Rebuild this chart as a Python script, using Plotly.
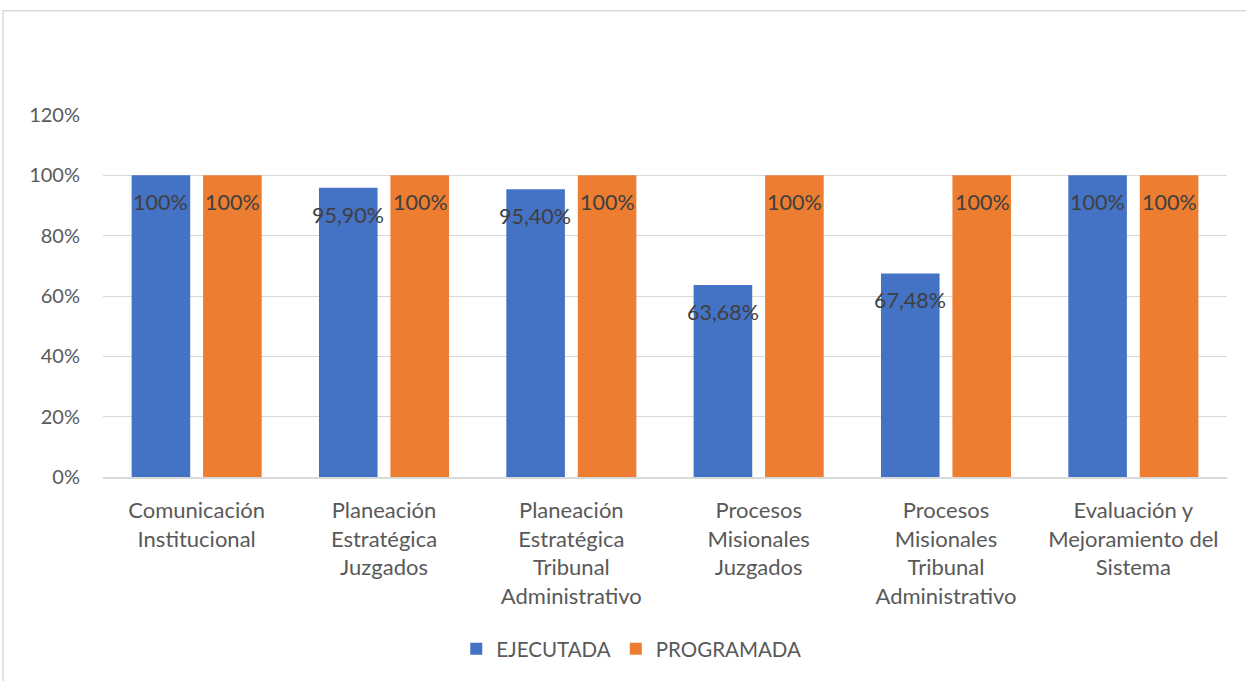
import plotly.graph_objects as go

categories = [
    "Comunicación<br>Institucional",
    "Planeación<br>Estratégica<br>Juzgados",
    "Planeación<br>Estratégica<br>Tribunal<br>Administrativo",
    "Procesos<br>Misionales<br>Juzgados",
    "Procesos<br>Misionales<br>Tribunal<br>Administrativo",
    "Evaluación y<br>Mejoramiento del<br>Sistema",
]
ejecutada = [1.00, 0.959, 0.954, 0.6368, 0.6748, 1.00]
programada = [1.00, 1.00, 1.00, 1.00, 1.00, 1.00]
ejecutada_labels = ["100%", "95,90%", "95,40%", "63,68%", "67,48%", "100%"]
programada_labels = ["100%", "100%", "100%", "100%", "100%", "100%"]
y_ticks = [0, 0.2, 0.4, 0.6, 0.8, 1.0, 1.2]
y_tick_text = ["0%", "20%", "40%", "60%", "80%", "100%", "120%"]

FONT = "Lato"
fig = go.Figure()
fig.add_trace(go.Bar(x=categories, y=ejecutada, name="EJECUTADA",
                     marker=dict(color="#4472C4", line=dict(width=0))))
fig.add_trace(go.Bar(x=categories, y=programada, name="PROGRAMADA",
                     marker=dict(color="#ED7D31", line=dict(width=0))))

annotations = []
for cat, v, t in zip(categories, ejecutada, ejecutada_labels):
    annotations.append(dict(x=cat, y=v, text=t, xref="x", yref="y", showarrow=False,
                            xshift=-36, yshift=-27, font=dict(family=FONT, size=21.5, color="#404040")))
for cat, v, t in zip(categories, programada, programada_labels):
    annotations.append(dict(x=cat, y=v, text=t, xref="x", yref="y", showarrow=False,
                            xshift=36, yshift=-27, font=dict(family=FONT, size=21.5, color="#404040")))

fig.update_layout(
    width=1246, height=681,
    margin=dict(l=103, r=19, t=115, b=202),
    paper_bgcolor="white", plot_bgcolor="white",
    barmode="group", bargap=0.237, bargroupgap=0.18,
    font=dict(family=FONT, size=20, color="#595959"),
    showlegend=True,
    legend=dict(orientation="h", x=0.47, xanchor="center", y=-0.475, yanchor="middle",
                font=dict(family=FONT, size=20.5, color="#595959"), itemwidth=30,
                traceorder="normal"),
    annotations=annotations,
    shapes=[dict(type="rect", xref="paper", yref="paper", x0=-0.089, x1=1.05, y0=-0.58, y1=1.288,
                 line=dict(color="#D9D9D9", width=1.5), fillcolor="rgba(0,0,0,0)", layer="below")],
)
fig.update_yaxes(range=[0, 1.2], tickvals=y_ticks, ticktext=y_tick_text,
                 showgrid=True, gridcolor="#D9D9D9", gridwidth=1.3, zeroline=False,
                 showline=False, ticks="", ticklabelstandoff=22,
                 tickfont=dict(family=FONT, size=20, color="#595959"))
fig.update_xaxes(showline=True, linecolor="#D9D9D9", linewidth=1.5, ticks="",
                 ticklabelstandoff=13,
                 tickfont=dict(family=FONT, size=22, color="#595959"))

fig.write_html("out.html", config={"displayModeBar": False},
               post_script="document.body.style.margin='0';")
